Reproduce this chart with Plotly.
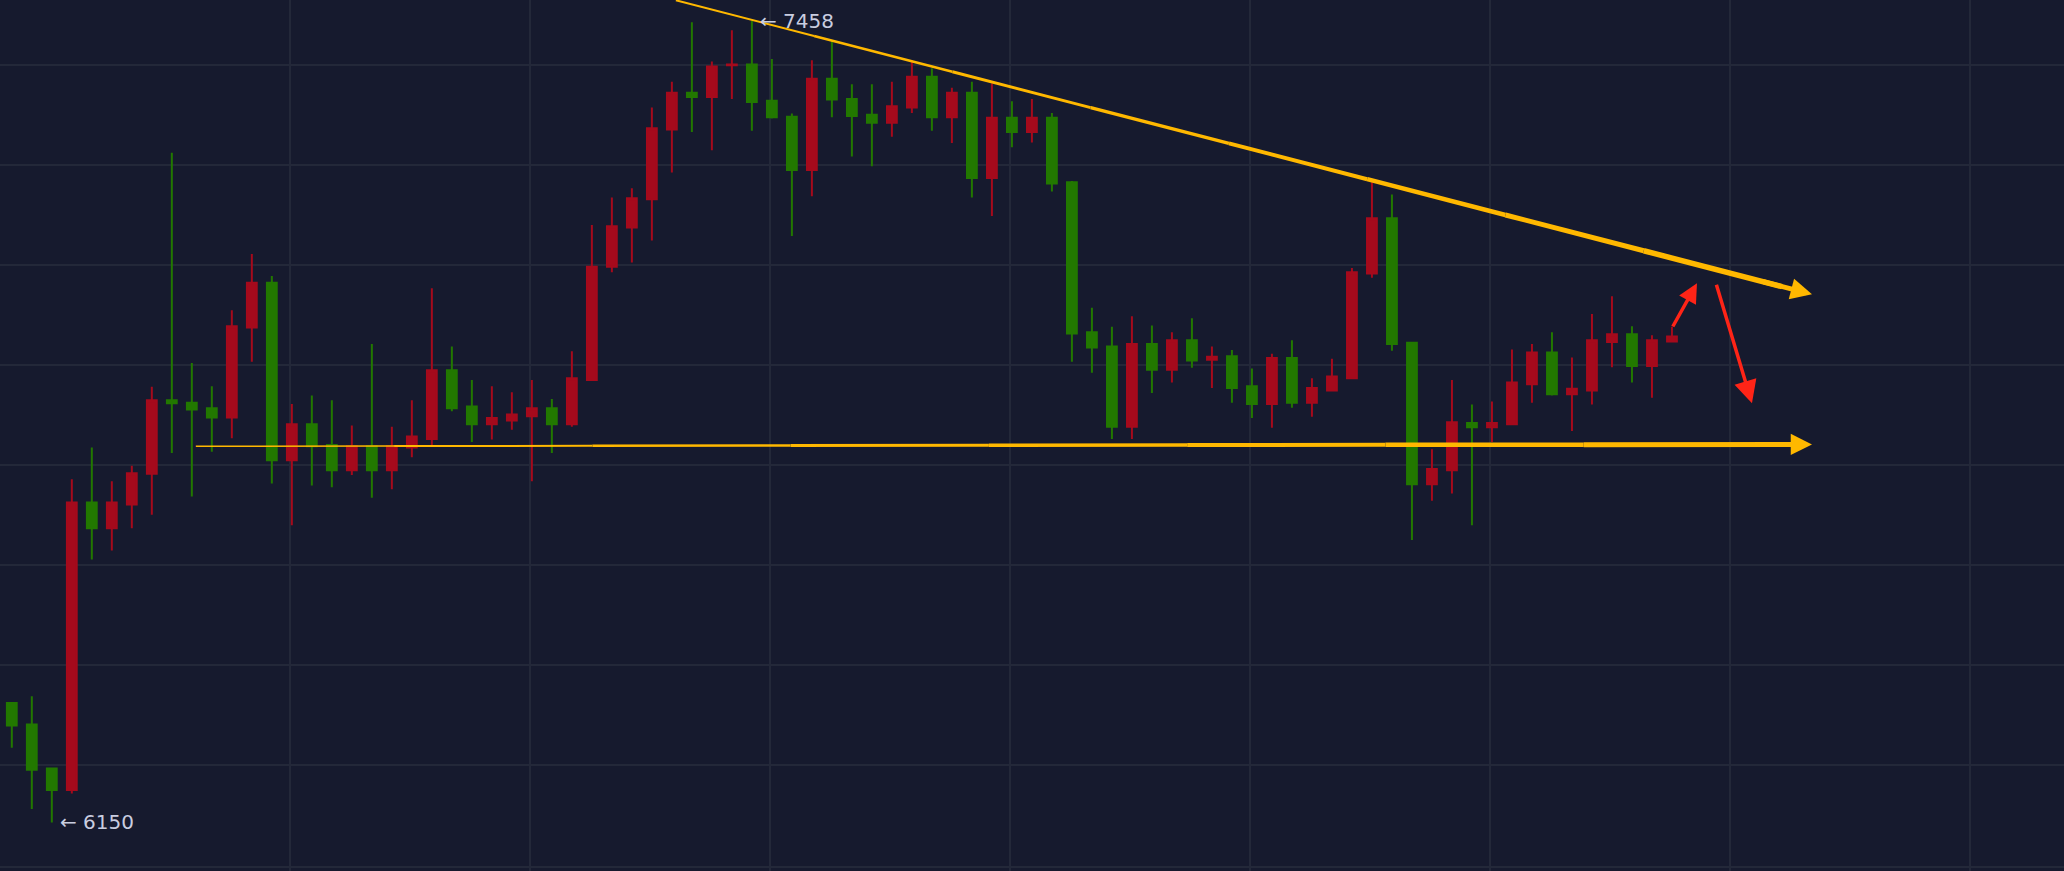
import plotly.graph_objects as go

opens = [6345,6310,6238,6203,6672,6630,6669,6719,6839,6835,6826,6811,6958,7031,6741,6800,6766,6725,6764,6725,
         6762,6776,6888,6829,6800,6806,6813,6826,6800,6872,7057,7121,7167,7281,7341,7334,7386,7387,7328,7302,
         7215,7364,7331,7305,7292,7317,7367,7301,7341,7202,7300,7277,7300,7195,6950,6927,6796,6931,6889,6937,
         6905,6911,6862,6833,6908,6835,6855,6875,7046,7136,6933,6702,6725,6802,6795,6800,6865,6917,6849,6855,
         6934,6947,6895,6935]
highs = [6345,6356,6238,6710,6762,6707,6732,6861,7243,6900,6862,6986,7078,7042,6833,6847,6839,6798,6931,6796,
         6839,7022,6927,6872,6862,6852,6872,6841,6919,7125,7170,7185,7317,7359,7456,7392,7443,7458,7396,7307,
         7394,7426,7355,7355,7359,7394,7381,7349,7359,7356,7327,7331,7308,7197,6990,6959,6976,6961,6950,6973,
         6927,6921,6891,6915,6937,6875,6907,7055,7195,7175,6933,6759,6872,6832,6837,6922,6931,6950,6909,6980,
         7009,6960,6945,6959]
lows = [6272,6172,6150,6197,6579,6594,6630,6652,6753,6682,6755,6777,6902,6703,6635,6700,6697,6717,6680,6694,
        6746,6766,6821,6771,6775,6791,6707,6753,6796,6872,7048,7064,7100,7211,7277,7247,7331,7279,7299,7107,
        7172,7301,7237,7221,7269,7308,7279,7259,7170,7140,7252,7260,7180,6902,6884,6776,6776,6851,6868,6892,
        6859,6835,6810,6794,6827,6812,6855,6875,7039,6920,6611,6675,6687,6635,6771,6800,6835,6847,6789,6832,
        6893,6868,6843,6935]
closes = [6308,6236,6203,6672,6630,6672,6720,6839,6834,6824,6811,6960,7031,6741,6800,6764,6725,6764,6725,6764,
          6780,6888,6826,6800,6810,6816,6826,6800,6875,7057,7123,7169,7283,7341,7334,7384,7387,7326,7301,7215,
          7364,7330,7303,7292,7319,7367,7301,7341,7202,7300,7277,7300,7193,6948,6925,6796,6931,6889,6937,6904,
          6910,6859,6833,6908,6835,6859,6878,7048,7136,6931,6702,6727,6803,6795,6802,6868,6917,6849,6858,6937,
          6947,6895,6937,6943]
idx = list(range(len(opens)))

# guide lines (index, price)
upper_line = [(33.2, 7492), (90.0, 7012)]
lower_line = [(9.2, 6764), (90.0, 6767)]
red_up = [(83.0, 6957), (84.25, 7030)]
red_down = [(85.2, 7030), (87.0, 6834)]
grid_x = [13.9 + 12*k for k in range(8)]
grid_y = [7386, 7223, 7060, 6896, 6733, 6570, 6407, 6244, 6077]

BG = "#161a2e"
GRID = "#232839"
YEL = "#ffb800"

fig = go.Figure(go.Candlestick(
    x=idx, open=opens, high=highs, low=lows, close=closes,
    increasing=dict(line=dict(color="#a50a1c", width=2), fillcolor="#a50a1c"),
    decreasing=dict(line=dict(color="#227800", width=2), fillcolor="#227800"),
    whiskerwidth=0, hoverinfo="skip"))

def seg_lines(p0, p1, widths):
    n = len(widths)
    for k, w in enumerate(widths):
        t0, t1 = k / n, (k + 1) / n
        fig.add_shape(type="line", xref="x", yref="y",
                      x0=p0[0] + (p1[0]-p0[0])*t0, y0=p0[1] + (p1[1]-p0[1])*t0,
                      x1=p0[0] + (p1[0]-p0[0])*t1, y1=p0[1] + (p1[1]-p0[1])*t1,
                      line=dict(color=YEL, width=w))

slope = (upper_line[0][1]-upper_line[1][1])/(upper_line[1][0]-upper_line[0][0])
seg_lines(upper_line[0], (upper_line[1][0]-1.5, upper_line[1][1] + slope*1.5), [2, 2.5, 3, 3.5, 4, 4.5, 5, 5.5])
seg_lines(lower_line[0], (lower_line[1][0]-1.5, lower_line[1][1]), [1.5, 2, 2.5, 3, 3.5, 4, 4.5, 5])

def arrow(p0, p1, color, width, size):
    fig.add_annotation(x=p1[0], y=p1[1], ax=p0[0], ay=p0[1], xref="x", yref="y",
                       axref="x", ayref="y", showarrow=True, arrowhead=2,
                       arrowsize=size, arrowwidth=width, arrowcolor=color, text="")

arrow((upper_line[1][0]-2.5, upper_line[1][1] + slope*2.5), upper_line[1], YEL, 5, 0.85)
arrow((lower_line[1][0]-2.5, lower_line[1][1]), lower_line[1], YEL, 5, 0.85)
arrow(red_up[0], red_up[1], "#ff2417", 3.5, 1.1)
arrow(red_down[0], red_down[1], "#ff2417", 3.5, 1.3)

hi_i = highs.index(max(highs)); lo_i = lows.index(min(lows))
for i, v in ((hi_i, highs[hi_i]), (lo_i, lows[lo_i])):
    fig.add_annotation(x=i, y=v, text="← " + str(v), showarrow=False,
                       xanchor="left", yanchor="middle", xshift=6,
                       font=dict(color="#c9cde0", size=20, family="DejaVu Sans, Arial"))

fig.update_layout(
    width=2064, height=871, margin=dict(l=0, r=0, t=0, b=0),
    paper_bgcolor=BG, plot_bgcolor=BG, showlegend=False,
    xaxis=dict(range=[-0.59, 102.6], rangeslider=dict(visible=False), tickvals=grid_x,
               showticklabels=False, gridcolor=GRID, gridwidth=2, zeroline=False),
    yaxis=dict(range=[6070.7, 7492.4], tickvals=grid_y, showticklabels=False,
               gridcolor=GRID, gridwidth=2, zeroline=False),
)
fig.write_html("out.html", config={"displayModeBar": False},
               post_script="document.body.style.margin='0';document.body.style.background='#161a2e';")
